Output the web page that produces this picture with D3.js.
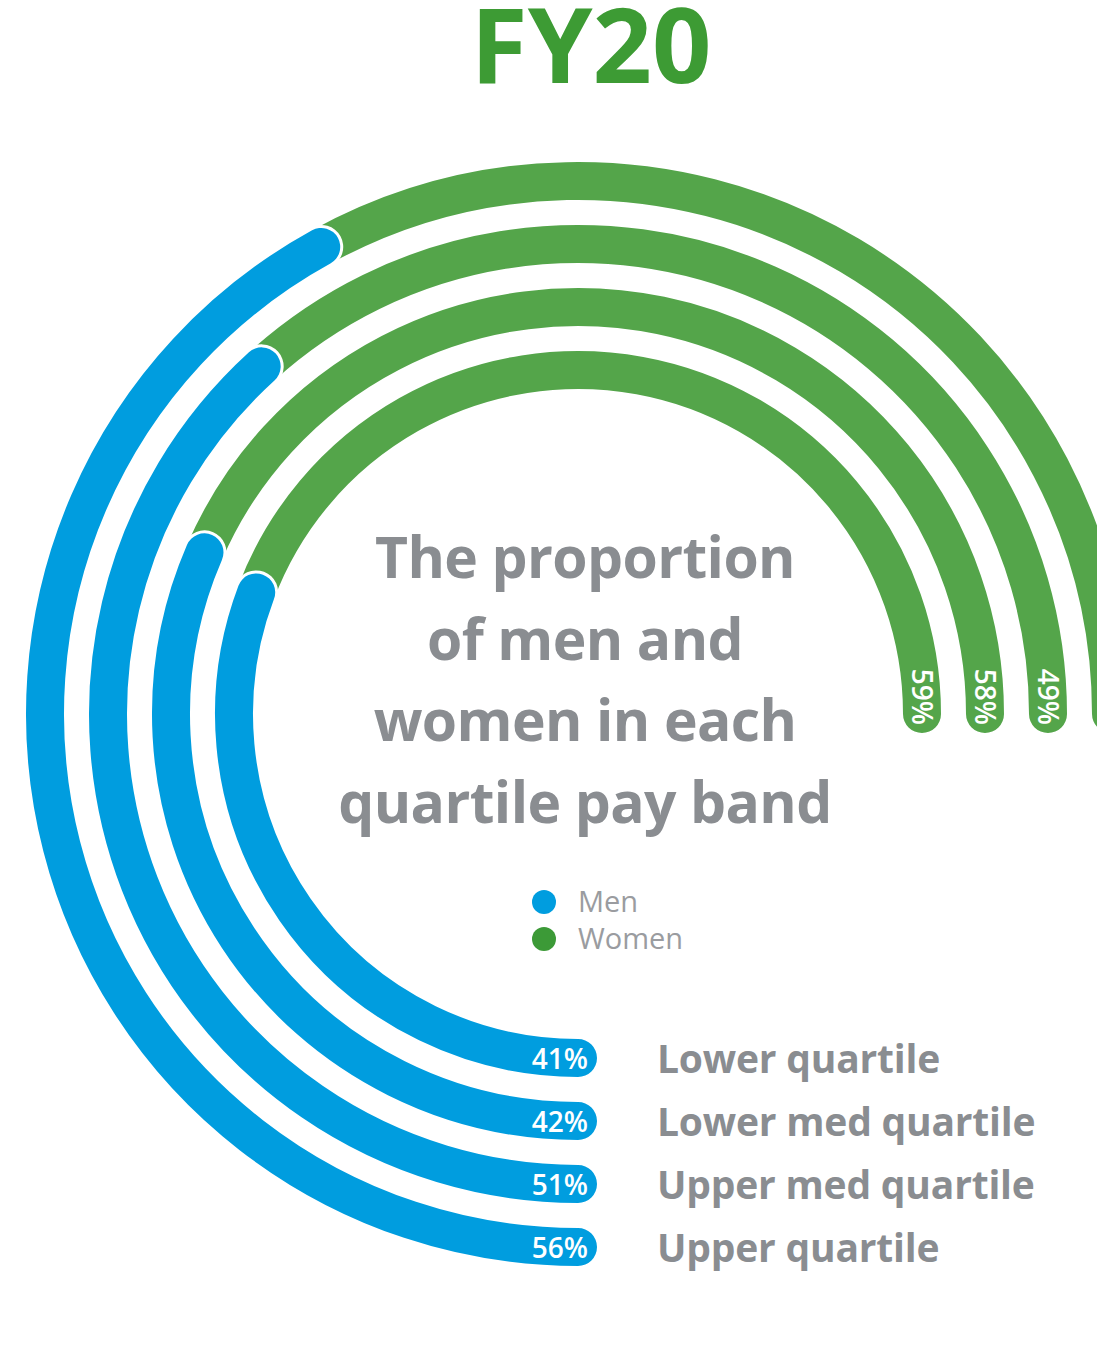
<!DOCTYPE html>
<html>
<head>
<meta charset="utf-8">
<script src="https://cdn.jsdelivr.net/npm/d3@7/dist/d3.min.js"></script>
<style>
  html, body { margin: 0; padding: 0; background: #ffffff; }
  svg { display: block; font-family: "Open Sans", "Noto Sans", sans-serif; }
</style>
</head>
<body>
<div id="chart"></div>
<script>
// Pay quartile bands, innermost ring first
const categories = ["Lower quartile", "Lower med quartile", "Upper med quartile", "Upper quartile"];
const menPct = [41, 42, 51, 56];
const womenPct = [59, 58, 49, 44];
const titleText = "FY20";
const headlineLines = ["The proportion", "of men and", "women in each", "quartile pay band"];
const legendItems = ["Men", "Women"];

const W = 1097, H = 1347;
const cx = 578, cy = 714;
const ringWidth = 38;
const blue = "#009ddf", green = "#54a54a";
const titleGreen = "#3d9b34", grey = "#8a8d91";

const svg = d3.select("#chart").append("svg")
  .attr("width", W).attr("height", H);

// Percent -> angle (0 at 12 o'clock, clockwise); rings start at 6 o'clock and end at 3 o'clock
const angle = d3.scaleLinear().domain([0, 100]).range([Math.PI, 2.5 * Math.PI]);
const radius = d3.scaleLinear().domain([0, categories.length - 1]).range([344, 533]);

function arcPath(r, a0, a1) {
  const p = d3.path();
  p.arc(cx, cy, r, a0 - Math.PI / 2, a1 - Math.PI / 2, false);
  return p.toString();
}

const rows = categories.map((c, i) => ({ cat: c, men: menPct[i], women: womenPct[i], r: radius(i) }));

const rings = svg.append("g").attr("class", "rings");

// women segment: from the men share to the end of the sweep
rings.selectAll("path.women").data(rows).join("path")
  .attr("class", "women")
  .attr("d", d => arcPath(d.r, angle(d.men), angle(100)))
  .attr("fill", "none").attr("stroke", green)
  .attr("stroke-width", ringWidth).attr("stroke-linecap", "round");

// men segment with a white keyline so its rounded end sits over the green
rings.selectAll("path.men-outline").data(rows).join("path")
  .attr("class", "men-outline")
  .attr("d", d => arcPath(d.r, angle(0), angle(d.men)))
  .attr("fill", "none").attr("stroke", "#ffffff")
  .attr("stroke-width", ringWidth + 6).attr("stroke-linecap", "round");

rings.selectAll("path.men").data(rows).join("path")
  .attr("class", "men")
  .attr("d", d => arcPath(d.r, angle(0), angle(d.men)))
  .attr("fill", "none").attr("stroke", blue)
  .attr("stroke-width", ringWidth).attr("stroke-linecap", "round");

// men % inside the start of each ring
rings.selectAll("text.men-val").data(rows).join("text")
  .attr("class", "men-val")
  .attr("x", cx + 10).attr("y", d => cy + d.r + 11)
  .attr("text-anchor", "end")
  .attr("fill", "#ffffff").attr("font-size", 28).attr("font-weight", 600)
  .text(d => d.men + "%");

// women % running down the end of each ring (only where the ring end is on the page)
rings.selectAll("text.women-val").data(rows.filter(d => cx + d.r + 16 < W)).join("text")
  .attr("class", "women-val")
  .attr("transform", d => `translate(${cx + d.r},${cy + 11}) rotate(90)`)
  .attr("text-anchor", "end").attr("dy", "0.36em")
  .attr("fill", "#ffffff").attr("font-size", 28).attr("font-weight", 600)
  .text(d => d.women + "%");

// band names to the right of the ring starts
svg.append("g").selectAll("text").data(rows).join("text")
  .attr("x", 657).attr("y", d => cy + d.r + 15)
  .attr("fill", grey).attr("font-size", 39).attr("font-weight", 700)
  .attr("letter-spacing", -0.2)
  .text(d => d.cat);

// title
svg.append("text")
  .attr("x", 591).attr("y", 83).attr("text-anchor", "middle")
  .attr("fill", titleGreen).attr("font-size", 104).attr("font-weight", 700)
  .text(titleText);

// headline in the middle of the rings
svg.append("g").selectAll("text").data(headlineLines).join("text")
  .attr("x", 585).attr("y", (d, i) => 578 + i * 81.5)
  .attr("text-anchor", "middle")
  .attr("fill", grey).attr("font-size", 57).attr("font-weight", 700)
  .attr("letter-spacing", -0.6)
  .text(d => d);

// legend
const colour = d3.scaleOrdinal().domain(legendItems).range([blue, "#3c9a37"]);
const legend = svg.append("g").selectAll("g").data(legendItems).join("g")
  .attr("transform", (d, i) => `translate(544,${902 + i * 37})`);
legend.append("circle").attr("r", 12).attr("fill", d => colour(d));
legend.append("text").attr("x", 34).attr("y", 10)
  .attr("fill", "#9a9ca0").attr("font-size", 29).attr("font-weight", 400)
  .text(d => d);
</script>
</body>
</html>
